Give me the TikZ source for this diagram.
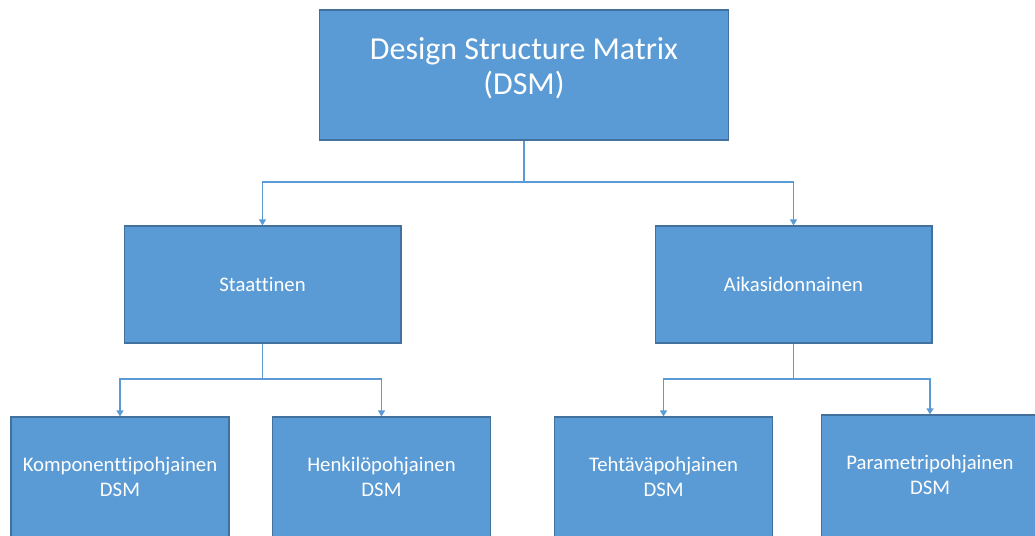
\documentclass[tikz,border=0pt]{standalone}
\usepackage{fontspec}
\setmainfont{Carlito}[Ligatures=CommonOff]
\usepackage{tikz}
\usetikzlibrary{arrows.meta,positioning}

\definecolor{boxblue}{HTML}{5B9BD5}
\definecolor{boxedge}{HTML}{41719C}

\begin{document}
\begin{tikzpicture}[x=0.02cm,y=-0.02cm,
  box/.style={draw=boxedge,line width=0.6pt,fill=boxblue,text=white,align=center,inner sep=0pt},
  small/.style={font=\fontsize{11.8}{14.2}\selectfont},
  conn/.style={draw=boxblue,line width=1pt,-{Triangle[width=4pt,length=3.5pt]}}]
\useasboundingbox (0,0) rectangle (1035,536);

% Top level
\node[box,minimum width=8.2cm,minimum height=2.6cm,text depth=0.36cm,font=\fontsize{18.2}{19.4}\selectfont] (dsm) at (524,75) {Design Structure Matrix\\(DSM)};

% Second level
\node[box,small,minimum width=5.54cm,minimum height=2.34cm] (staat) at (262.5,284.5) {Staattinen};
\node[box,small,minimum width=5.54cm,minimum height=2.34cm] (aika) at (793.5,284.5) {Aikasidonnainen};

% Third level
\node[box,small,minimum width=4.36cm,minimum height=2.46cm,text depth=0.08cm] (komp) at (120,478.5) {Komponenttipohjainen\\DSM};
\node[box,small,minimum width=4.36cm,minimum height=2.46cm,text depth=0.08cm] (henk) at (381.5,478.5) {Henkilöpohjainen\\DSM};
\node[box,small,minimum width=4.36cm,minimum height=2.46cm,text depth=0.08cm] (teht) at (663.5,478.5) {Tehtäväpohjainen\\DSM};
\node[box,small,minimum width=4.36cm,minimum height=2.46cm,text depth=0.08cm] (param) at (930,476.5) {Parametripohjainen\\DSM};

% Connectors
\coordinate (j0) at (524,182);
\coordinate (j1) at (262.5,379);
\coordinate (j2) at (793.5,379);
\draw[conn] (dsm.south) -- (j0) -| (staat.north);
\draw[conn] (j0) -| (aika.north);
\draw[conn] (staat.south) -- (j1) -| (komp.north);
\draw[conn] (j1) -| (henk.north);
\draw[conn] (aika.south) -- (j2) -| (teht.north);
\draw[conn] (j2) -| (param.north);
\end{tikzpicture}
\end{document}
